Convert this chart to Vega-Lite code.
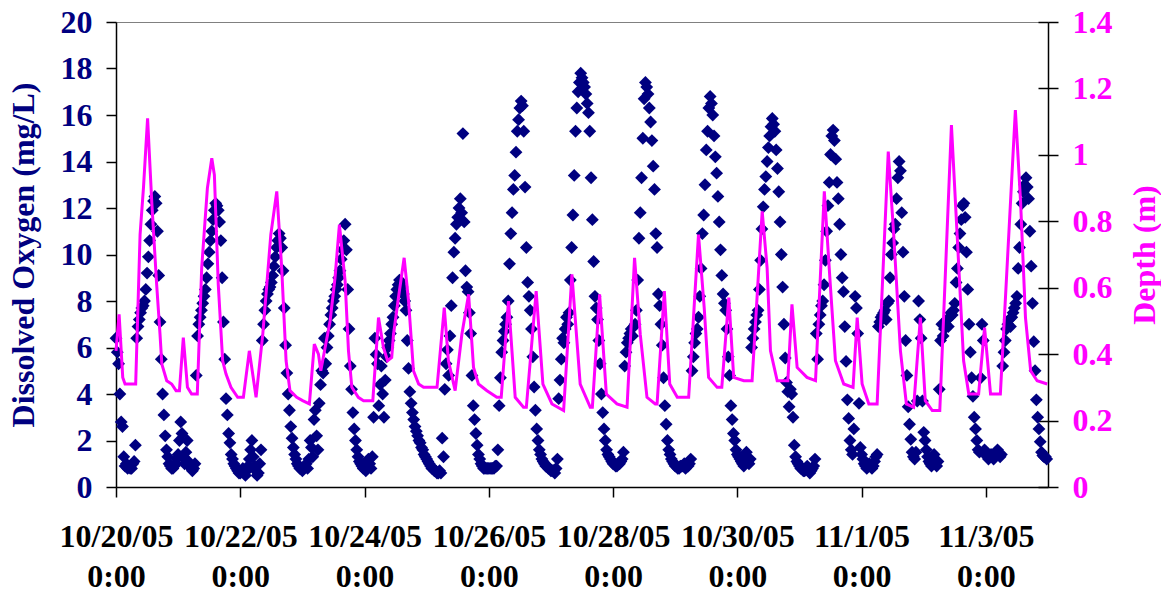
{
"$schema": "https://vega.github.io/schema/vega-lite/v6.json",
"width": 932, "height": 465,
"autosize": "none",
"padding": {"left": 116, "top": 22, "right": 113, "bottom": 107},
"config": {"view": {"stroke": "#808080", "strokeWidth": 1}, "font": "Liberation Serif"},
"datasets": {
"do": [
{"t":"2005-10-20T00:00","v":6.4},{"t":"2005-10-20T00:30","v":5.8},{"t":"2005-10-20T01:00","v":5.3},{"t":"2005-10-20T01:30","v":4.0},{"t":"2005-10-20T02:00","v":2.8},{"t":"2005-10-20T02:30","v":2.6},{"t":"2005-10-20T03:00","v":1.3},{"t":"2005-10-20T03:30","v":0.9},{"t":"2005-10-20T04:00","v":1.0},{"t":"2005-10-20T04:30","v":0.8},{"t":"2005-10-20T05:00","v":0.9},{"t":"2005-10-20T05:30","v":0.8},{"t":"2005-10-20T06:00","v":0.8},{"t":"2005-10-20T06:30","v":1.0},{"t":"2005-10-20T07:00","v":1.1},{"t":"2005-10-20T07:30","v":1.8},{"t":"2005-10-20T08:00","v":6.4},{"t":"2005-10-20T08:30","v":6.9},{"t":"2005-10-20T09:00","v":7.2},{"t":"2005-10-20T09:30","v":7.5},{"t":"2005-10-20T10:00","v":7.7},{"t":"2005-10-20T10:30","v":7.8},{"t":"2005-10-20T11:00","v":8.0},{"t":"2005-10-20T11:30","v":8.5},{"t":"2005-10-20T12:00","v":9.2},{"t":"2005-10-20T12:30","v":9.9},{"t":"2005-10-20T13:00","v":10.6},{"t":"2005-10-20T13:30","v":11.3},{"t":"2005-10-20T14:00","v":11.9},{"t":"2005-10-20T14:30","v":12.3},{"t":"2005-10-20T15:00","v":12.5},{"t":"2005-10-20T15:30","v":12.2},{"t":"2005-10-20T16:00","v":11.0},{"t":"2005-10-20T16:30","v":9.1},{"t":"2005-10-20T17:00","v":7.1},{"t":"2005-10-20T17:30","v":5.5},{"t":"2005-10-20T18:00","v":4.0},{"t":"2005-10-20T18:30","v":3.1},{"t":"2005-10-20T19:00","v":2.2},{"t":"2005-10-20T19:30","v":1.6},{"t":"2005-10-20T20:00","v":1.3},{"t":"2005-10-20T20:30","v":1.0},{"t":"2005-10-20T21:00","v":0.9},{"t":"2005-10-20T21:30","v":0.8},{"t":"2005-10-20T22:00","v":0.8},{"t":"2005-10-20T22:30","v":0.9},{"t":"2005-10-20T23:00","v":1.0},{"t":"2005-10-20T23:30","v":1.2},
{"t":"2005-10-21T00:00","v":1.4},{"t":"2005-10-21T00:30","v":2.0},{"t":"2005-10-21T01:00","v":2.8},{"t":"2005-10-21T01:30","v":2.3},{"t":"2005-10-21T02:00","v":1.3},{"t":"2005-10-21T02:30","v":1.0},{"t":"2005-10-21T03:00","v":1.5},{"t":"2005-10-21T03:30","v":2.0},{"t":"2005-10-21T04:00","v":1.1},{"t":"2005-10-21T04:30","v":0.9},{"t":"2005-10-21T05:00","v":0.8},{"t":"2005-10-21T05:30","v":0.7},{"t":"2005-10-21T06:00","v":0.8},{"t":"2005-10-21T06:30","v":1.0},{"t":"2005-10-21T07:00","v":4.8},{"t":"2005-10-21T07:30","v":6.5},{"t":"2005-10-21T08:00","v":7.0},{"t":"2005-10-21T08:30","v":7.3},{"t":"2005-10-21T09:00","v":7.6},{"t":"2005-10-21T09:30","v":7.9},{"t":"2005-10-21T10:00","v":8.2},{"t":"2005-10-21T10:30","v":8.5},{"t":"2005-10-21T11:00","v":9.0},{"t":"2005-10-21T11:30","v":9.6},{"t":"2005-10-21T12:00","v":10.1},{"t":"2005-10-21T12:30","v":10.6},{"t":"2005-10-21T13:00","v":11.0},{"t":"2005-10-21T13:30","v":11.5},{"t":"2005-10-21T14:00","v":11.9},{"t":"2005-10-21T14:30","v":12.2},{"t":"2005-10-21T15:00","v":12.1},{"t":"2005-10-21T15:30","v":11.9},{"t":"2005-10-21T16:00","v":11.4},{"t":"2005-10-21T16:30","v":10.6},{"t":"2005-10-21T17:00","v":9.0},{"t":"2005-10-21T17:30","v":7.1},{"t":"2005-10-21T18:00","v":5.5},{"t":"2005-10-21T18:30","v":3.8},{"t":"2005-10-21T19:00","v":3.1},{"t":"2005-10-21T19:30","v":2.3},{"t":"2005-10-21T20:00","v":1.9},{"t":"2005-10-21T20:30","v":1.4},{"t":"2005-10-21T21:00","v":1.2},{"t":"2005-10-21T21:30","v":1.0},{"t":"2005-10-21T22:00","v":0.9},{"t":"2005-10-21T22:30","v":0.8},{"t":"2005-10-21T23:00","v":0.7},{"t":"2005-10-21T23:30","v":0.6},
{"t":"2005-10-22T00:00","v":0.6},{"t":"2005-10-22T00:30","v":0.7},{"t":"2005-10-22T01:00","v":0.8},{"t":"2005-10-22T01:30","v":0.6},{"t":"2005-10-22T02:00","v":0.5},{"t":"2005-10-22T02:30","v":0.7},{"t":"2005-10-22T03:00","v":0.9},{"t":"2005-10-22T03:30","v":1.2},{"t":"2005-10-22T04:00","v":1.6},{"t":"2005-10-22T04:30","v":2.0},{"t":"2005-10-22T05:00","v":1.3},{"t":"2005-10-22T05:30","v":0.9},{"t":"2005-10-22T06:00","v":0.7},{"t":"2005-10-22T06:30","v":0.5},{"t":"2005-10-22T07:00","v":0.6},{"t":"2005-10-22T07:30","v":1.0},{"t":"2005-10-22T08:00","v":1.6},{"t":"2005-10-22T08:30","v":6.3},{"t":"2005-10-22T09:00","v":7.0},{"t":"2005-10-22T09:30","v":7.6},{"t":"2005-10-22T10:00","v":8.0},{"t":"2005-10-22T10:30","v":8.3},{"t":"2005-10-22T11:00","v":8.5},{"t":"2005-10-22T11:30","v":8.6},{"t":"2005-10-22T12:00","v":8.8},{"t":"2005-10-22T12:30","v":9.1},{"t":"2005-10-22T13:00","v":9.5},{"t":"2005-10-22T13:30","v":9.9},{"t":"2005-10-22T14:00","v":10.3},{"t":"2005-10-22T14:30","v":10.6},{"t":"2005-10-22T15:00","v":10.9},{"t":"2005-10-22T15:30","v":10.7},{"t":"2005-10-22T16:00","v":10.3},{"t":"2005-10-22T16:30","v":9.3},{"t":"2005-10-22T17:00","v":7.7},{"t":"2005-10-22T17:30","v":6.1},{"t":"2005-10-22T18:00","v":4.9},{"t":"2005-10-22T18:30","v":4.0},{"t":"2005-10-22T19:00","v":3.3},{"t":"2005-10-22T19:30","v":2.6},{"t":"2005-10-22T20:00","v":2.1},{"t":"2005-10-22T20:30","v":1.7},{"t":"2005-10-22T21:00","v":1.4},{"t":"2005-10-22T21:30","v":1.2},{"t":"2005-10-22T22:00","v":1.0},{"t":"2005-10-22T22:30","v":0.9},{"t":"2005-10-22T23:00","v":0.8},{"t":"2005-10-22T23:30","v":0.8},
{"t":"2005-10-23T00:00","v":0.7},{"t":"2005-10-23T00:30","v":0.8},{"t":"2005-10-23T01:00","v":0.9},{"t":"2005-10-23T01:30","v":1.0},{"t":"2005-10-23T02:00","v":0.8},{"t":"2005-10-23T02:30","v":1.2},{"t":"2005-10-23T03:00","v":2.0},{"t":"2005-10-23T03:30","v":1.7},{"t":"2005-10-23T04:00","v":1.3},{"t":"2005-10-23T04:30","v":2.9},{"t":"2005-10-23T05:00","v":3.3},{"t":"2005-10-23T05:30","v":2.2},{"t":"2005-10-23T06:00","v":1.6},{"t":"2005-10-23T06:30","v":3.6},{"t":"2005-10-23T07:00","v":4.4},{"t":"2005-10-23T07:30","v":5.0},{"t":"2005-10-23T08:00","v":4.9},{"t":"2005-10-23T08:30","v":6.4},{"t":"2005-10-23T09:00","v":5.3},{"t":"2005-10-23T09:30","v":6.0},{"t":"2005-10-23T10:00","v":6.5},{"t":"2005-10-23T10:30","v":7.0},{"t":"2005-10-23T11:00","v":7.4},{"t":"2005-10-23T11:30","v":7.7},{"t":"2005-10-23T12:00","v":8.0},{"t":"2005-10-23T12:30","v":8.2},{"t":"2005-10-23T13:00","v":8.5},{"t":"2005-10-23T13:30","v":8.7},{"t":"2005-10-23T14:00","v":9.0},{"t":"2005-10-23T14:30","v":9.3},{"t":"2005-10-23T15:00","v":9.8},{"t":"2005-10-23T15:30","v":10.2},{"t":"2005-10-23T16:00","v":10.6},{"t":"2005-10-23T16:30","v":11.3},{"t":"2005-10-23T17:00","v":10.2},{"t":"2005-10-23T17:30","v":8.5},{"t":"2005-10-23T18:00","v":6.8},{"t":"2005-10-23T18:30","v":5.2},{"t":"2005-10-23T19:00","v":4.2},{"t":"2005-10-23T19:30","v":3.2},{"t":"2005-10-23T20:00","v":2.5},{"t":"2005-10-23T20:30","v":2.0},{"t":"2005-10-23T21:00","v":1.6},{"t":"2005-10-23T21:30","v":1.3},{"t":"2005-10-23T22:00","v":1.1},{"t":"2005-10-23T22:30","v":1.0},{"t":"2005-10-23T23:00","v":0.9},{"t":"2005-10-23T23:30","v":0.8},
{"t":"2005-10-24T00:00","v":0.8},{"t":"2005-10-24T00:30","v":0.7},{"t":"2005-10-24T01:00","v":0.9},{"t":"2005-10-24T01:30","v":1.2},{"t":"2005-10-24T02:00","v":1.0},{"t":"2005-10-24T02:30","v":0.8},{"t":"2005-10-24T03:00","v":1.3},{"t":"2005-10-24T03:30","v":3.0},{"t":"2005-10-24T04:00","v":6.4},{"t":"2005-10-24T04:30","v":5.7},{"t":"2005-10-24T05:00","v":5.3},{"t":"2005-10-24T05:30","v":3.5},{"t":"2005-10-24T06:00","v":4.4},{"t":"2005-10-24T06:30","v":5.2},{"t":"2005-10-24T07:00","v":4.0},{"t":"2005-10-24T07:30","v":3.0},{"t":"2005-10-24T08:00","v":4.6},{"t":"2005-10-24T08:30","v":5.6},{"t":"2005-10-24T09:00","v":6.0},{"t":"2005-10-24T09:30","v":6.3},{"t":"2005-10-24T10:00","v":6.6},{"t":"2005-10-24T10:30","v":7.0},{"t":"2005-10-24T11:00","v":7.3},{"t":"2005-10-24T11:30","v":7.8},{"t":"2005-10-24T12:00","v":8.2},{"t":"2005-10-24T12:30","v":8.5},{"t":"2005-10-24T13:00","v":8.7},{"t":"2005-10-24T13:30","v":8.9},{"t":"2005-10-24T14:00","v":8.8},{"t":"2005-10-24T14:30","v":8.6},{"t":"2005-10-24T15:00","v":8.3},{"t":"2005-10-24T15:30","v":8.0},{"t":"2005-10-24T16:00","v":7.6},{"t":"2005-10-24T16:30","v":6.3},{"t":"2005-10-24T17:00","v":5.1},{"t":"2005-10-24T17:30","v":4.1},{"t":"2005-10-24T18:00","v":3.6},{"t":"2005-10-24T18:30","v":3.2},{"t":"2005-10-24T19:00","v":2.9},{"t":"2005-10-24T19:30","v":2.6},{"t":"2005-10-24T20:00","v":2.4},{"t":"2005-10-24T20:30","v":2.2},{"t":"2005-10-24T21:00","v":2.0},{"t":"2005-10-24T21:30","v":1.9},{"t":"2005-10-24T22:00","v":1.7},{"t":"2005-10-24T22:30","v":1.6},{"t":"2005-10-24T23:00","v":1.4},{"t":"2005-10-24T23:30","v":1.3},
{"t":"2005-10-25T00:00","v":1.2},{"t":"2005-10-25T00:30","v":1.1},{"t":"2005-10-25T01:00","v":1.0},{"t":"2005-10-25T01:30","v":0.9},{"t":"2005-10-25T02:00","v":0.8},{"t":"2005-10-25T02:30","v":0.8},{"t":"2005-10-25T03:00","v":0.7},{"t":"2005-10-25T03:30","v":0.7},{"t":"2005-10-25T04:00","v":0.6},{"t":"2005-10-25T04:30","v":0.6},{"t":"2005-10-25T05:00","v":0.7},{"t":"2005-10-25T05:30","v":0.6},{"t":"2005-10-25T06:00","v":2.1},{"t":"2005-10-25T06:30","v":1.3},{"t":"2005-10-25T07:00","v":4.2},{"t":"2005-10-25T07:30","v":5.3},{"t":"2005-10-25T08:00","v":5.9},{"t":"2005-10-25T08:30","v":4.8},{"t":"2005-10-25T09:00","v":6.5},{"t":"2005-10-25T09:30","v":7.8},{"t":"2005-10-25T10:00","v":9.0},{"t":"2005-10-25T10:30","v":10.1},{"t":"2005-10-25T11:00","v":10.7},{"t":"2005-10-25T11:30","v":11.3},{"t":"2005-10-25T12:00","v":11.6},{"t":"2005-10-25T12:30","v":12.0},{"t":"2005-10-25T13:00","v":12.4},{"t":"2005-10-25T13:30","v":11.8},{"t":"2005-10-25T14:00","v":15.2},{"t":"2005-10-25T14:30","v":11.4},{"t":"2005-10-25T15:00","v":9.3},{"t":"2005-10-25T15:30","v":8.6},{"t":"2005-10-25T16:00","v":8.4},{"t":"2005-10-25T16:30","v":7.5},{"t":"2005-10-25T17:00","v":6.6},{"t":"2005-10-25T17:30","v":4.8},{"t":"2005-10-25T18:00","v":3.5},{"t":"2005-10-25T18:30","v":2.9},{"t":"2005-10-25T19:00","v":2.3},{"t":"2005-10-25T19:30","v":1.8},{"t":"2005-10-25T20:00","v":1.4},{"t":"2005-10-25T20:30","v":1.2},{"t":"2005-10-25T21:00","v":1.0},{"t":"2005-10-25T21:30","v":0.9},{"t":"2005-10-25T22:00","v":0.8},{"t":"2005-10-25T22:30","v":0.8},{"t":"2005-10-25T23:00","v":0.8},{"t":"2005-10-25T23:30","v":0.8},
{"t":"2005-10-26T00:00","v":0.8},{"t":"2005-10-26T00:30","v":0.8},{"t":"2005-10-26T01:00","v":0.8},{"t":"2005-10-26T01:30","v":0.8},{"t":"2005-10-26T02:00","v":0.8},{"t":"2005-10-26T02:30","v":0.9},{"t":"2005-10-26T03:00","v":0.9},{"t":"2005-10-26T03:30","v":1.6},{"t":"2005-10-26T04:00","v":3.5},{"t":"2005-10-26T04:30","v":4.7},{"t":"2005-10-26T05:00","v":5.8},{"t":"2005-10-26T05:30","v":6.3},{"t":"2005-10-26T06:00","v":6.7},{"t":"2005-10-26T06:30","v":7.0},{"t":"2005-10-26T07:00","v":7.3},{"t":"2005-10-26T07:30","v":8.0},{"t":"2005-10-26T08:00","v":9.6},{"t":"2005-10-26T08:30","v":10.9},{"t":"2005-10-26T09:00","v":11.8},{"t":"2005-10-26T09:30","v":12.8},{"t":"2005-10-26T10:00","v":13.4},{"t":"2005-10-26T10:30","v":14.4},{"t":"2005-10-26T11:00","v":15.3},{"t":"2005-10-26T11:30","v":15.8},{"t":"2005-10-26T12:00","v":16.3},{"t":"2005-10-26T12:30","v":16.6},{"t":"2005-10-26T13:00","v":16.4},{"t":"2005-10-26T13:30","v":15.3},{"t":"2005-10-26T14:00","v":12.9},{"t":"2005-10-26T14:30","v":10.3},{"t":"2005-10-26T15:00","v":8.8},{"t":"2005-10-26T15:30","v":8.2},{"t":"2005-10-26T16:00","v":7.6},{"t":"2005-10-26T16:30","v":6.8},{"t":"2005-10-26T17:00","v":5.6},{"t":"2005-10-26T17:30","v":4.3},{"t":"2005-10-26T18:00","v":3.3},{"t":"2005-10-26T18:30","v":2.5},{"t":"2005-10-26T19:00","v":2.0},{"t":"2005-10-26T19:30","v":1.6},{"t":"2005-10-26T20:00","v":1.4},{"t":"2005-10-26T20:30","v":1.2},{"t":"2005-10-26T21:00","v":1.1},{"t":"2005-10-26T21:30","v":1.0},{"t":"2005-10-26T22:00","v":0.9},{"t":"2005-10-26T22:30","v":0.9},{"t":"2005-10-26T23:00","v":0.8},{"t":"2005-10-26T23:30","v":0.8},
{"t":"2005-10-27T00:00","v":0.7},{"t":"2005-10-27T00:30","v":0.7},{"t":"2005-10-27T01:00","v":0.7},{"t":"2005-10-27T01:30","v":0.6},{"t":"2005-10-27T02:00","v":0.8},{"t":"2005-10-27T02:30","v":1.2},{"t":"2005-10-27T03:00","v":3.8},{"t":"2005-10-27T03:30","v":4.6},{"t":"2005-10-27T04:00","v":5.5},{"t":"2005-10-27T04:30","v":6.4},{"t":"2005-10-27T05:00","v":6.2},{"t":"2005-10-27T05:30","v":6.8},{"t":"2005-10-27T06:00","v":7.3},{"t":"2005-10-27T06:30","v":7.0},{"t":"2005-10-27T07:00","v":7.5},{"t":"2005-10-27T07:30","v":8.9},{"t":"2005-10-27T08:00","v":10.3},{"t":"2005-10-27T08:30","v":11.7},{"t":"2005-10-27T09:00","v":13.4},{"t":"2005-10-27T09:30","v":15.3},{"t":"2005-10-27T10:00","v":16.3},{"t":"2005-10-27T10:30","v":17.0},{"t":"2005-10-27T11:00","v":17.4},{"t":"2005-10-27T11:30","v":17.8},{"t":"2005-10-27T12:00","v":17.6},{"t":"2005-10-27T12:30","v":17.4},{"t":"2005-10-27T13:00","v":17.2},{"t":"2005-10-27T13:30","v":16.9},{"t":"2005-10-27T14:00","v":16.5},{"t":"2005-10-27T14:30","v":16.1},{"t":"2005-10-27T15:00","v":15.3},{"t":"2005-10-27T15:30","v":13.3},{"t":"2005-10-27T16:00","v":11.5},{"t":"2005-10-27T16:30","v":9.7},{"t":"2005-10-27T17:00","v":8.2},{"t":"2005-10-27T17:30","v":7.7},{"t":"2005-10-27T18:00","v":7.2},{"t":"2005-10-27T18:30","v":6.3},{"t":"2005-10-27T19:00","v":5.3},{"t":"2005-10-27T19:30","v":4.0},{"t":"2005-10-27T20:00","v":3.2},{"t":"2005-10-27T20:30","v":2.5},{"t":"2005-10-27T21:00","v":2.0},{"t":"2005-10-27T21:30","v":1.6},{"t":"2005-10-27T22:00","v":1.4},{"t":"2005-10-27T22:30","v":1.3},{"t":"2005-10-27T23:00","v":1.2},{"t":"2005-10-27T23:30","v":1.1},
{"t":"2005-10-28T00:00","v":1.0},{"t":"2005-10-28T00:30","v":1.0},{"t":"2005-10-28T01:00","v":0.9},{"t":"2005-10-28T01:30","v":0.9},{"t":"2005-10-28T02:00","v":1.0},{"t":"2005-10-28T02:30","v":1.0},{"t":"2005-10-28T03:00","v":1.1},{"t":"2005-10-28T03:30","v":1.2},{"t":"2005-10-28T04:00","v":1.5},{"t":"2005-10-28T04:30","v":5.2},{"t":"2005-10-28T05:00","v":5.8},{"t":"2005-10-28T05:30","v":6.2},{"t":"2005-10-28T06:00","v":6.4},{"t":"2005-10-28T06:30","v":6.6},{"t":"2005-10-28T07:00","v":6.8},{"t":"2005-10-28T07:30","v":6.5},{"t":"2005-10-28T08:00","v":6.9},{"t":"2005-10-28T08:30","v":7.0},{"t":"2005-10-28T09:00","v":7.6},{"t":"2005-10-28T09:30","v":8.9},{"t":"2005-10-28T10:00","v":10.7},{"t":"2005-10-28T10:30","v":11.8},{"t":"2005-10-28T11:00","v":13.3},{"t":"2005-10-28T11:30","v":15.0},{"t":"2005-10-28T12:00","v":16.7},{"t":"2005-10-28T12:30","v":17.4},{"t":"2005-10-28T13:00","v":17.2},{"t":"2005-10-28T13:30","v":16.9},{"t":"2005-10-28T14:00","v":16.3},{"t":"2005-10-28T14:30","v":15.7},{"t":"2005-10-28T15:00","v":14.9},{"t":"2005-10-28T15:30","v":13.8},{"t":"2005-10-28T16:00","v":12.8},{"t":"2005-10-28T16:30","v":10.9},{"t":"2005-10-28T17:00","v":10.3},{"t":"2005-10-28T17:30","v":8.3},{"t":"2005-10-28T18:00","v":7.8},{"t":"2005-10-28T18:30","v":7.0},{"t":"2005-10-28T19:00","v":6.1},{"t":"2005-10-28T19:30","v":4.7},{"t":"2005-10-28T20:00","v":3.5},{"t":"2005-10-28T20:30","v":2.7},{"t":"2005-10-28T21:00","v":2.0},{"t":"2005-10-28T21:30","v":1.6},{"t":"2005-10-28T22:00","v":1.4},{"t":"2005-10-28T22:30","v":1.2},{"t":"2005-10-28T23:00","v":1.1},{"t":"2005-10-28T23:30","v":1.0},
{"t":"2005-10-29T00:00","v":0.9},{"t":"2005-10-29T00:30","v":0.9},{"t":"2005-10-29T01:00","v":0.8},{"t":"2005-10-29T01:30","v":0.8},{"t":"2005-10-29T02:00","v":0.9},{"t":"2005-10-29T02:30","v":0.9},{"t":"2005-10-29T03:00","v":0.9},{"t":"2005-10-29T03:30","v":1.0},{"t":"2005-10-29T04:00","v":0.8},{"t":"2005-10-29T04:30","v":0.9},{"t":"2005-10-29T05:00","v":0.9},{"t":"2005-10-29T05:30","v":1.0},{"t":"2005-10-29T06:00","v":1.2},{"t":"2005-10-29T06:30","v":5.0},{"t":"2005-10-29T07:00","v":5.6},{"t":"2005-10-29T07:30","v":6.2},{"t":"2005-10-29T08:00","v":6.6},{"t":"2005-10-29T08:30","v":6.8},{"t":"2005-10-29T09:00","v":7.3},{"t":"2005-10-29T09:30","v":8.2},{"t":"2005-10-29T10:00","v":9.4},{"t":"2005-10-29T10:30","v":10.9},{"t":"2005-10-29T11:00","v":11.7},{"t":"2005-10-29T11:30","v":13.0},{"t":"2005-10-29T12:00","v":14.5},{"t":"2005-10-29T12:30","v":15.3},{"t":"2005-10-29T13:00","v":16.3},{"t":"2005-10-29T13:30","v":16.8},{"t":"2005-10-29T14:00","v":16.5},{"t":"2005-10-29T14:30","v":16.0},{"t":"2005-10-29T15:00","v":15.1},{"t":"2005-10-29T15:30","v":14.2},{"t":"2005-10-29T16:00","v":13.5},{"t":"2005-10-29T16:30","v":12.5},{"t":"2005-10-29T17:00","v":11.4},{"t":"2005-10-29T17:30","v":10.2},{"t":"2005-10-29T18:00","v":9.1},{"t":"2005-10-29T18:30","v":8.3},{"t":"2005-10-29T19:00","v":7.9},{"t":"2005-10-29T19:30","v":7.6},{"t":"2005-10-29T20:00","v":6.8},{"t":"2005-10-29T20:30","v":5.6},{"t":"2005-10-29T21:00","v":4.8},{"t":"2005-10-29T21:30","v":3.5},{"t":"2005-10-29T22:00","v":2.9},{"t":"2005-10-29T22:30","v":2.3},{"t":"2005-10-29T23:00","v":2.0},{"t":"2005-10-29T23:30","v":1.6},
{"t":"2005-10-30T00:00","v":1.4},{"t":"2005-10-30T00:30","v":1.3},{"t":"2005-10-30T01:00","v":1.2},{"t":"2005-10-30T01:30","v":1.1},{"t":"2005-10-30T02:00","v":1.0},{"t":"2005-10-30T02:30","v":0.9},{"t":"2005-10-30T03:00","v":1.2},{"t":"2005-10-30T03:30","v":1.5},{"t":"2005-10-30T04:00","v":1.1},{"t":"2005-10-30T04:30","v":1.0},{"t":"2005-10-30T05:00","v":1.2},{"t":"2005-10-30T05:30","v":6.0},{"t":"2005-10-30T06:00","v":6.4},{"t":"2005-10-30T06:30","v":6.8},{"t":"2005-10-30T07:00","v":7.1},{"t":"2005-10-30T07:30","v":7.4},{"t":"2005-10-30T08:00","v":7.6},{"t":"2005-10-30T08:30","v":8.5},{"t":"2005-10-30T09:00","v":9.75},{"t":"2005-10-30T09:30","v":11.1},{"t":"2005-10-30T10:00","v":12.05},{"t":"2005-10-30T10:30","v":12.8},{"t":"2005-10-30T11:00","v":13.35},{"t":"2005-10-30T11:30","v":14.0},{"t":"2005-10-30T12:00","v":14.6},{"t":"2005-10-30T12:30","v":15.1},{"t":"2005-10-30T13:00","v":15.5},{"t":"2005-10-30T13:30","v":15.85},{"t":"2005-10-30T14:00","v":15.6},{"t":"2005-10-30T14:30","v":15.3},{"t":"2005-10-30T15:00","v":14.5},{"t":"2005-10-30T15:30","v":13.7},{"t":"2005-10-30T16:00","v":12.7},{"t":"2005-10-30T16:30","v":11.4},{"t":"2005-10-30T17:00","v":10.0},{"t":"2005-10-30T17:30","v":8.6},{"t":"2005-10-30T18:00","v":7.0},{"t":"2005-10-30T18:30","v":5.55},{"t":"2005-10-30T19:00","v":4.5},{"t":"2005-10-30T19:30","v":4.1},{"t":"2005-10-30T20:00","v":3.45},{"t":"2005-10-30T20:30","v":4.2},{"t":"2005-10-30T21:00","v":4.0},{"t":"2005-10-30T21:30","v":3.0},{"t":"2005-10-30T22:00","v":1.8},{"t":"2005-10-30T22:30","v":1.3},{"t":"2005-10-30T23:00","v":1.1},{"t":"2005-10-30T23:30","v":1.0},
{"t":"2005-10-31T00:00","v":0.9},{"t":"2005-10-31T00:30","v":0.8},{"t":"2005-10-31T01:00","v":0.8},{"t":"2005-10-31T01:30","v":0.7},{"t":"2005-10-31T02:00","v":0.7},{"t":"2005-10-31T02:30","v":0.8},{"t":"2005-10-31T03:00","v":0.9},{"t":"2005-10-31T03:30","v":0.7},{"t":"2005-10-31T04:00","v":0.6},{"t":"2005-10-31T04:30","v":0.7},{"t":"2005-10-31T05:00","v":0.8},{"t":"2005-10-31T05:30","v":0.9},{"t":"2005-10-31T06:00","v":1.2},{"t":"2005-10-31T06:30","v":6.6},{"t":"2005-10-31T07:00","v":5.5},{"t":"2005-10-31T07:30","v":7.0},{"t":"2005-10-31T08:00","v":7.4},{"t":"2005-10-31T08:30","v":7.8},{"t":"2005-10-31T09:00","v":8.0},{"t":"2005-10-31T09:30","v":8.7},{"t":"2005-10-31T10:00","v":9.75},{"t":"2005-10-31T10:30","v":11.0},{"t":"2005-10-31T11:00","v":12.1},{"t":"2005-10-31T11:30","v":13.1},{"t":"2005-10-31T12:00","v":14.3},{"t":"2005-10-31T12:30","v":15.1},{"t":"2005-10-31T13:00","v":15.35},{"t":"2005-10-31T13:30","v":14.9},{"t":"2005-10-31T14:00","v":14.1},{"t":"2005-10-31T14:30","v":13.1},{"t":"2005-10-31T15:00","v":12.4},{"t":"2005-10-31T15:30","v":11.3},{"t":"2005-10-31T16:00","v":10.0},{"t":"2005-10-31T16:30","v":9.0},{"t":"2005-10-31T17:00","v":8.4},{"t":"2005-10-31T17:30","v":6.9},{"t":"2005-10-31T18:00","v":5.4},{"t":"2005-10-31T18:30","v":3.75},{"t":"2005-10-31T19:00","v":2.95},{"t":"2005-10-31T19:30","v":2.0},{"t":"2005-10-31T20:00","v":1.6},{"t":"2005-10-31T20:30","v":1.4},{"t":"2005-10-31T21:00","v":2.5},{"t":"2005-10-31T21:30","v":8.2},{"t":"2005-10-31T22:00","v":7.7},{"t":"2005-10-31T22:30","v":6.6},{"t":"2005-10-31T23:00","v":3.6},{"t":"2005-10-31T23:30","v":1.7},
{"t":"2005-11-01T00:00","v":1.4},{"t":"2005-11-01T00:30","v":1.2},{"t":"2005-11-01T01:00","v":1.0},{"t":"2005-11-01T01:30","v":0.9},{"t":"2005-11-01T02:00","v":0.8},{"t":"2005-11-01T02:30","v":0.9},{"t":"2005-11-01T03:00","v":1.0},{"t":"2005-11-01T03:30","v":0.9},{"t":"2005-11-01T04:00","v":0.8},{"t":"2005-11-01T04:30","v":0.9},{"t":"2005-11-01T05:00","v":1.1},{"t":"2005-11-01T05:30","v":1.3},{"t":"2005-11-01T06:00","v":1.4},{"t":"2005-11-01T06:30","v":6.9},{"t":"2005-11-01T07:00","v":7.1},{"t":"2005-11-01T07:30","v":7.3},{"t":"2005-11-01T08:00","v":7.4},{"t":"2005-11-01T08:30","v":7.5},{"t":"2005-11-01T09:00","v":7.6},{"t":"2005-11-01T09:30","v":7.2},{"t":"2005-11-01T10:00","v":7.9},{"t":"2005-11-01T10:30","v":8.0},{"t":"2005-11-01T11:00","v":9.0},{"t":"2005-11-01T11:30","v":10.0},{"t":"2005-11-01T12:00","v":10.5},{"t":"2005-11-01T12:30","v":11.1},{"t":"2005-11-01T13:00","v":11.3},{"t":"2005-11-01T13:30","v":12.4},{"t":"2005-11-01T14:00","v":13.3},{"t":"2005-11-01T14:30","v":14.0},{"t":"2005-11-01T15:00","v":13.6},{"t":"2005-11-01T15:30","v":11.8},{"t":"2005-11-01T16:00","v":10.1},{"t":"2005-11-01T16:30","v":8.2},{"t":"2005-11-01T17:00","v":6.3},{"t":"2005-11-01T17:30","v":4.8},{"t":"2005-11-01T18:00","v":3.45},{"t":"2005-11-01T18:30","v":2.7},{"t":"2005-11-01T19:00","v":2.05},{"t":"2005-11-01T19:30","v":1.5},{"t":"2005-11-01T20:00","v":1.3},{"t":"2005-11-01T20:30","v":1.2},{"t":"2005-11-01T21:00","v":1.5},{"t":"2005-11-01T21:30","v":3.7},{"t":"2005-11-01T22:00","v":8.0},{"t":"2005-11-01T22:30","v":7.2},{"t":"2005-11-01T23:00","v":6.4},{"t":"2005-11-01T23:30","v":3.7},
{"t":"2005-11-02T00:00","v":2.35},{"t":"2005-11-02T00:30","v":2.0},{"t":"2005-11-02T01:00","v":1.6},{"t":"2005-11-02T01:30","v":1.3},{"t":"2005-11-02T02:00","v":1.1},{"t":"2005-11-02T02:30","v":1.0},{"t":"2005-11-02T03:00","v":0.9},{"t":"2005-11-02T03:30","v":1.2},{"t":"2005-11-02T04:00","v":1.4},{"t":"2005-11-02T04:30","v":1.0},{"t":"2005-11-02T05:00","v":0.9},{"t":"2005-11-02T05:30","v":1.1},{"t":"2005-11-02T06:00","v":4.2},{"t":"2005-11-02T06:30","v":6.3},{"t":"2005-11-02T07:00","v":7.0},{"t":"2005-11-02T07:30","v":6.5},{"t":"2005-11-02T08:00","v":6.8},{"t":"2005-11-02T08:30","v":7.0},{"t":"2005-11-02T09:00","v":7.2},{"t":"2005-11-02T09:30","v":6.9},{"t":"2005-11-02T10:00","v":7.3},{"t":"2005-11-02T10:30","v":7.5},{"t":"2005-11-02T11:00","v":7.4},{"t":"2005-11-02T11:30","v":7.6},{"t":"2005-11-02T12:00","v":7.9},{"t":"2005-11-02T12:30","v":8.8},{"t":"2005-11-02T13:00","v":9.4},{"t":"2005-11-02T13:30","v":10.3},{"t":"2005-11-02T14:00","v":10.9},{"t":"2005-11-02T14:30","v":11.5},{"t":"2005-11-02T15:00","v":12.1},{"t":"2005-11-02T15:30","v":12.2},{"t":"2005-11-02T16:00","v":11.6},{"t":"2005-11-02T16:30","v":10.1},{"t":"2005-11-02T17:00","v":8.5},{"t":"2005-11-02T17:30","v":7.0},{"t":"2005-11-02T18:00","v":5.8},{"t":"2005-11-02T18:30","v":4.7},{"t":"2005-11-02T19:00","v":3.9},{"t":"2005-11-02T19:30","v":3.0},{"t":"2005-11-02T20:00","v":2.5},{"t":"2005-11-02T20:30","v":2.0},{"t":"2005-11-02T21:00","v":1.6},{"t":"2005-11-02T21:30","v":1.5},{"t":"2005-11-02T22:00","v":4.7},{"t":"2005-11-02T22:30","v":7.0},{"t":"2005-11-02T23:00","v":6.3},{"t":"2005-11-02T23:30","v":1.6},
{"t":"2005-11-03T00:00","v":1.4},{"t":"2005-11-03T00:30","v":1.3},{"t":"2005-11-03T01:00","v":1.2},{"t":"2005-11-03T01:30","v":1.3},{"t":"2005-11-03T02:00","v":1.4},{"t":"2005-11-03T02:30","v":1.3},{"t":"2005-11-03T03:00","v":1.2},{"t":"2005-11-03T03:30","v":1.4},{"t":"2005-11-03T04:00","v":1.5},{"t":"2005-11-03T04:30","v":1.6},{"t":"2005-11-03T05:00","v":1.4},{"t":"2005-11-03T05:30","v":1.3},{"t":"2005-11-03T06:00","v":1.4},{"t":"2005-11-03T06:30","v":5.2},{"t":"2005-11-03T07:00","v":5.8},{"t":"2005-11-03T07:30","v":6.3},{"t":"2005-11-03T08:00","v":6.8},{"t":"2005-11-03T08:30","v":7.0},{"t":"2005-11-03T09:00","v":7.2},{"t":"2005-11-03T09:30","v":6.9},{"t":"2005-11-03T10:00","v":7.3},{"t":"2005-11-03T10:30","v":7.5},{"t":"2005-11-03T11:00","v":7.7},{"t":"2005-11-03T11:30","v":7.9},{"t":"2005-11-03T12:00","v":8.2},{"t":"2005-11-03T12:30","v":9.4},{"t":"2005-11-03T13:00","v":10.3},{"t":"2005-11-03T13:30","v":11.3},{"t":"2005-11-03T14:00","v":12.2},{"t":"2005-11-03T14:30","v":12.7},{"t":"2005-11-03T15:00","v":13.0},{"t":"2005-11-03T15:30","v":13.3},{"t":"2005-11-03T16:00","v":12.9},{"t":"2005-11-03T16:30","v":12.4},{"t":"2005-11-03T17:00","v":11.0},{"t":"2005-11-03T17:30","v":9.5},{"t":"2005-11-03T18:00","v":7.9},{"t":"2005-11-03T18:30","v":6.25},{"t":"2005-11-03T19:00","v":5.0},{"t":"2005-11-03T19:30","v":3.75},{"t":"2005-11-03T20:00","v":3.0},{"t":"2005-11-03T20:30","v":2.5},{"t":"2005-11-03T21:00","v":1.95},{"t":"2005-11-03T21:30","v":1.5},{"t":"2005-11-03T22:00","v":1.35},{"t":"2005-11-03T22:30","v":1.3},{"t":"2005-11-03T23:00","v":1.3},{"t":"2005-11-03T23:30","v":1.2}
],
"depth": [
{"t":"2005-10-20T00:00","d":0.41},{"t":"2005-10-20T01:12","d":0.52},{"t":"2005-10-20T02:36","d":0.33},{"t":"2005-10-20T03:30","d":0.31},{"t":"2005-10-20T07:36","d":0.31},{"t":"2005-10-20T09:18","d":0.76},{"t":"2005-10-20T10:36","d":0.9},{"t":"2005-10-20T12:12","d":1.11},{"t":"2005-10-20T13:48","d":0.86},{"t":"2005-10-20T15:42","d":0.61},{"t":"2005-10-20T17:00","d":0.46},{"t":"2005-10-20T17:42","d":0.37},{"t":"2005-10-20T19:36","d":0.32},{"t":"2005-10-20T21:30","d":0.31},{"t":"2005-10-20T23:12","d":0.29},
{"t":"2005-10-21T00:30","d":0.29},{"t":"2005-10-21T02:00","d":0.45},{"t":"2005-10-21T03:36","d":0.30},{"t":"2005-10-21T05:12","d":0.28},{"t":"2005-10-21T07:24","d":0.28},{"t":"2005-10-21T09:06","d":0.66},{"t":"2005-10-21T11:18","d":0.90},{"t":"2005-10-21T13:00","d":0.99},{"t":"2005-10-21T14:00","d":0.94},{"t":"2005-10-21T15:30","d":0.61},{"t":"2005-10-21T17:12","d":0.38},{"t":"2005-10-21T18:30","d":0.34},{"t":"2005-10-21T20:24","d":0.30},{"t":"2005-10-21T23:00","d":0.27},
{"t":"2005-10-22T01:12","d":0.27},{"t":"2005-10-22T03:30","d":0.41},{"t":"2005-10-22T06:06","d":0.27},{"t":"2005-10-22T08:42","d":0.46},{"t":"2005-10-22T11:48","d":0.76},{"t":"2005-10-22T14:06","d":0.89},{"t":"2005-10-22T16:00","d":0.66},{"t":"2005-10-22T17:42","d":0.38},{"t":"2005-10-22T19:12","d":0.29},{"t":"2005-10-22T21:48","d":0.27},
{"t":"2005-10-23T00:06","d":0.26},{"t":"2005-10-23T02:42","d":0.25},{"t":"2005-10-23T04:36","d":0.43},{"t":"2005-10-23T06:12","d":0.40},{"t":"2005-10-23T07:06","d":0.35},{"t":"2005-10-23T10:42","d":0.50},{"t":"2005-10-23T12:36","d":0.63},{"t":"2005-10-23T14:18","d":0.79},{"t":"2005-10-23T16:30","d":0.62},{"t":"2005-10-23T17:48","d":0.41},{"t":"2005-10-23T19:06","d":0.30},{"t":"2005-10-23T21:36","d":0.27},{"t":"2005-10-23T23:36","d":0.26},
{"t":"2005-10-24T03:12","d":0.26},{"t":"2005-10-24T05:24","d":0.51},{"t":"2005-10-24T07:18","d":0.42},{"t":"2005-10-24T08:54","d":0.38},{"t":"2005-10-24T10:30","d":0.39},{"t":"2005-10-24T11:12","d":0.46},{"t":"2005-10-24T13:06","d":0.57},{"t":"2005-10-24T15:18","d":0.69},{"t":"2005-10-24T17:00","d":0.56},{"t":"2005-10-24T18:54","d":0.35},{"t":"2005-10-24T20:54","d":0.31},{"t":"2005-10-24T22:48","d":0.30},
{"t":"2005-10-25T04:00","d":0.30},{"t":"2005-10-25T06:48","d":0.54},{"t":"2005-10-25T08:24","d":0.38},{"t":"2005-10-25T11:00","d":0.29},{"t":"2005-10-25T13:36","d":0.46},{"t":"2005-10-25T16:12","d":0.58},{"t":"2005-10-25T18:06","d":0.36},{"t":"2005-10-25T20:00","d":0.31},{"t":"2005-10-25T23:18","d":0.29},
{"t":"2005-10-26T03:06","d":0.27},{"t":"2005-10-26T04:48","d":0.27},{"t":"2005-10-26T07:36","d":0.56},{"t":"2005-10-26T10:12","d":0.27},{"t":"2005-10-26T13:24","d":0.24},{"t":"2005-10-26T14:30","d":0.24},{"t":"2005-10-26T18:18","d":0.59},{"t":"2005-10-26T20:54","d":0.31},
{"t":"2005-10-27T00:24","d":0.25},{"t":"2005-10-27T04:54","d":0.23},{"t":"2005-10-27T08:06","d":0.64},{"t":"2005-10-27T11:18","d":0.31},{"t":"2005-10-27T15:12","d":0.24},{"t":"2005-10-27T16:00","d":0.24},{"t":"2005-10-27T18:48","d":0.58},{"t":"2005-10-27T21:24","d":0.28},
{"t":"2005-10-28T01:30","d":0.25},{"t":"2005-10-28T05:24","d":0.24},{"t":"2005-10-28T08:18","d":0.69},{"t":"2005-10-28T10:30","d":0.46},{"t":"2005-10-28T13:06","d":0.27},{"t":"2005-10-28T16:18","d":0.25},{"t":"2005-10-28T17:00","d":0.25},{"t":"2005-10-28T19:48","d":0.59},{"t":"2005-10-28T21:54","d":0.31},
{"t":"2005-10-29T00:48","d":0.27},{"t":"2005-10-29T05:12","d":0.27},{"t":"2005-10-29T09:00","d":0.76},{"t":"2005-10-29T11:12","d":0.54},{"t":"2005-10-29T12:54","d":0.33},{"t":"2005-10-29T16:12","d":0.30},{"t":"2005-10-29T18:00","d":0.30},{"t":"2005-10-29T20:42","d":0.57},{"t":"2005-10-29T22:36","d":0.33},
{"t":"2005-10-30T02:30","d":0.32},{"t":"2005-10-30T05:42","d":0.32},{"t":"2005-10-30T09:36","d":0.83},{"t":"2005-10-30T11:30","d":0.66},{"t":"2005-10-30T12:48","d":0.41},{"t":"2005-10-30T15:24","d":0.32},{"t":"2005-10-30T19:30","d":0.32},{"t":"2005-10-30T21:06","d":0.55},{"t":"2005-10-30T23:06","d":0.36},
{"t":"2005-10-31T02:54","d":0.33},{"t":"2005-10-31T06:12","d":0.32},{"t":"2005-10-31T09:36","d":0.89},{"t":"2005-10-31T11:54","d":0.61},{"t":"2005-10-31T13:54","d":0.38},{"t":"2005-10-31T17:06","d":0.31},{"t":"2005-10-31T20:42","d":0.30},{"t":"2005-10-31T22:18","d":0.51},
{"t":"2005-11-01T00:12","d":0.31},{"t":"2005-11-01T02:48","d":0.25},{"t":"2005-11-01T06:00","d":0.25},{"t":"2005-11-01T10:18","d":1.01},{"t":"2005-11-01T12:24","d":0.76},{"t":"2005-11-01T15:00","d":0.41},{"t":"2005-11-01T17:18","d":0.25},{"t":"2005-11-01T20:06","d":0.24},{"t":"2005-11-01T22:42","d":0.51},
{"t":"2005-11-02T00:36","d":0.26},{"t":"2005-11-02T03:18","d":0.23},{"t":"2005-11-02T06:12","d":0.23},{"t":"2005-11-02T10:42","d":1.09},{"t":"2005-11-02T12:54","d":0.76},{"t":"2005-11-02T15:24","d":0.38},{"t":"2005-11-02T17:24","d":0.28},{"t":"2005-11-02T21:12","d":0.28},{"t":"2005-11-02T23:30","d":0.48},
{"t":"2005-11-03T01:48","d":0.28},{"t":"2005-11-03T05:36","d":0.28},{"t":"2005-11-03T11:24","d":1.135},{"t":"2005-11-03T13:24","d":0.86},{"t":"2005-11-03T15:18","d":0.51},{"t":"2005-11-03T17:18","d":0.35},{"t":"2005-11-03T19:48","d":0.32},{"t":"2005-11-03T23:42","d":0.31}
]
},
"layer": [
{
"data": {"name": "do"},
"mark": {"type": "point", "shape": "diamond", "filled": true, "size": 165, "color": "#000080", "opacity": 1},
"encoding": {
"x": {"field": "t", "type": "temporal",
"scale": {"domain": ["2005-10-20T00:00", "2005-11-04T00:00"], "nice": false},
"axis": {"values": [{"year":2005,"month":10,"date":20},{"year":2005,"month":10,"date":22},{"year":2005,"month":10,"date":24},{"year":2005,"month":10,"date":26},{"year":2005,"month":10,"date":28},{"year":2005,"month":10,"date":30},{"year":2005,"month":11,"date":1},{"year":2005,"month":11,"date":3}],
"labelExpr": "[timeFormat(datum.value, '%-m/%-d/%y'), timeFormat(datum.value, '%-H:%M')]",
"title": null, "grid": false, "labelFont": "Liberation Serif", "labelFontSize": 32, "labelFontWeight": "bold", "labelColor": "#000000",
"labelLineHeight": 40, "labelPadding": 24, "labelOverlap": false, "labelBound": false, "labelFlush": false,
"tickSize": 10, "tickColor": "#000000", "tickWidth": 1.5, "domainColor": "#000000", "domainWidth": 1.5}},
"y": {"field": "v", "type": "quantitative",
"scale": {"domain": [0, 20], "nice": false},
"axis": {"orient": "left", "values": [0,2,4,6,8,10,12,14,16,18,20], "grid": false,
"title": "Dissolved Oxygen (mg/L)", "titleFont": "Liberation Serif", "titleFontSize": 32, "titleFontWeight": "bold", "titleColor": "#000080", "titlePadding": 20,
"labelFont": "Liberation Serif", "labelFontSize": 32, "labelFontWeight": "bold", "labelColor": "#000080", "labelPadding": 14,
"tickSize": 10, "tickColor": "#000000", "tickWidth": 1.5, "domainColor": "#000000", "domainWidth": 1.5}}
}
},
{
"data": {"name": "depth"},
"mark": {"type": "line", "color": "#FF00FF", "strokeWidth": 3},
"encoding": {
"x": {"field": "t", "type": "temporal"},
"y": {"field": "d", "type": "quantitative",
"scale": {"domain": [0, 1.4], "nice": false},
"axis": {"orient": "right", "values": [0,0.2,0.4,0.6,0.8,1,1.2,1.4], "format": "~g", "grid": false,
"title": "Depth (m)", "titleFont": "Liberation Serif", "titleFontSize": 32, "titleFontWeight": "bold", "titleColor": "#FF00FF", "titlePadding": 49, "titleAngle": 270,
"labelFont": "Liberation Serif", "labelFontSize": 32, "labelFontWeight": "bold", "labelColor": "#FF00FF", "labelPadding": 14,
"tickSize": 10, "tickColor": "#000000", "tickWidth": 1.5, "domainColor": "#000000", "domainWidth": 1.5}}
}
},
{
"data": {"name": "depth"},
"mark": {"type": "line", "color": "#FF00FF", "strokeWidth": 3, "strokeOpacity": 0},
"encoding": {
"x": {"field": "t", "type": "temporal"},
"y": {"field": "d", "type": "quantitative",
"scale": {"domain": [0, 1.4], "nice": false},
"axis": {"orient": "right", "offset": -10, "values": [0,0.2,0.4,0.6,0.8,1,1.2,1.4], "grid": false, "labels": false, "domain": false, "title": null,
"tickSize": 10, "tickColor": "#000000", "tickWidth": 1.5}}
}
}
],
"resolve": {"scale": {"y": "independent"}}
}
